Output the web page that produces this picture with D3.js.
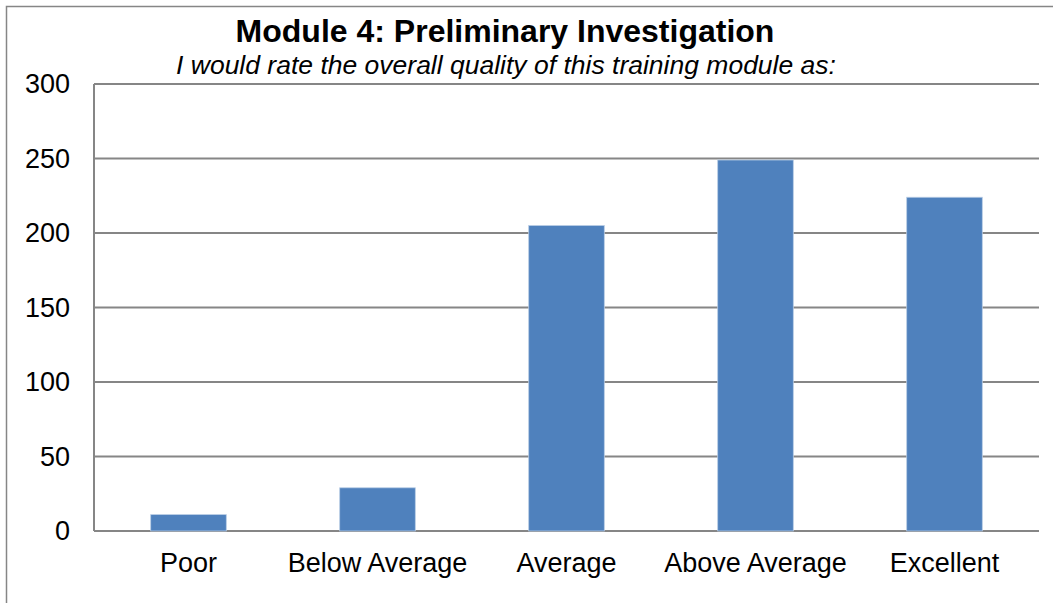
<!DOCTYPE html>
<html>
<head>
<meta charset="utf-8">
<script src="https://cdn.jsdelivr.net/npm/d3@7"></script>
<style>
  body { margin: 0; background: #fff; }
  text { font-family: "Liberation Sans", Arial, sans-serif; fill: #000; }
</style>
</head>
<body>
<svg id="chart" width="1053" height="603"></svg>
<script>
// Chart data
const categories = ["Poor", "Below Average", "Average", "Above Average", "Excellent"];
const counts = [11, 29, 205, 249, 224];
const yTicks = [0, 50, 100, 150, 200, 250, 300];

const titleText = "Module 4: Preliminary Investigation";
const subtitleText = "I would rate the overall quality of this training module as:";

// Layout
let margin = { top: 84, left: 94, right: 14, bottom: 72 },
    width = 1053 - margin.left - margin.right,
    height = 603 - margin.top - margin.bottom;

let svg = d3.select("#chart");

// outer chart border (runs off the right and bottom edges)
svg.append("rect")
    .attr("x", 6.5)
    .attr("y", 6.5)
    .attr("width", 1200)
    .attr("height", 800)
    .attr("fill", "none")
    .attr("stroke", "#868686")
    .attr("stroke-width", 1.5);

let g = svg.append("g")
    .attr("transform", "translate(" + margin.left + "," + margin.top + ")");

let x = d3.scaleBand()
    .domain(categories)
    .range([0, width])
    .paddingInner(0.6)
    .paddingOuter(0.3);

let y = d3.scaleLinear()
    .domain([0, 300])
    .range([height, 0]);

// gridlines
g.append("g")
    .selectAll("line")
    .data(yTicks)
    .enter()
    .append("line")
    .attr("x1", 0)
    .attr("x2", width)
    .attr("y1", d => y(d))
    .attr("y2", d => y(d))
    .attr("stroke", "#868686")
    .attr("stroke-width", 2);

// left axis line
g.append("line")
    .attr("x1", 0).attr("x2", 0)
    .attr("y1", 0).attr("y2", height)
    .attr("stroke", "#868686")
    .attr("stroke-width", 2);

// bars
g.append("g")
    .selectAll("rect")
    .data(counts)
    .enter()
    .append("rect")
    .attr("x", (d, i) => x(categories[i]))
    .attr("y", d => y(d))
    .attr("width", x.bandwidth())
    .attr("height", d => height - y(d))
    .attr("fill", "#4F81BD")
    .attr("stroke", "#B9CDE5")
    .attr("stroke-width", 0.8);

// y axis labels
let yAxis = g.append("g")
    .call(d3.axisLeft(y).tickValues(yTicks).tickSize(0).tickPadding(24));
yAxis.select(".domain").remove();
yAxis.selectAll("text")
    .style("font-size", "27px")
    .style("font-family", "'Liberation Sans', Arial, sans-serif")
    .attr("fill", "#000");

// x axis labels
let xAxis = g.append("g")
    .attr("transform", "translate(0," + height + ")")
    .call(d3.axisBottom(x).tickSize(0).tickPadding(22));
xAxis.select(".domain").remove();
xAxis.selectAll("text")
    .style("font-size", "27px")
    .style("font-family", "'Liberation Sans', Arial, sans-serif")
    .attr("fill", "#000");

// title and subtitle
svg.append("text")
    .attr("x", 505)
    .attr("y", 42)
    .attr("text-anchor", "middle")
    .style("font-size", "32px")
    .style("font-weight", "bold")
    .text(titleText);

svg.append("text")
    .attr("x", 506)
    .attr("y", 74)
    .attr("text-anchor", "middle")
    .style("font-size", "26.5px")
    .style("font-style", "italic")
    .text(subtitleText);
</script>
</body>
</html>
